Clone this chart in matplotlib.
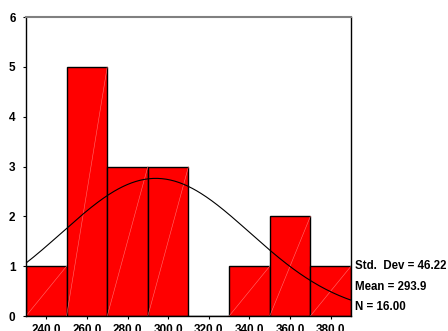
import matplotlib.pyplot as plt
import numpy as np

# histogram of the 16 values, 20-wide bins
bin_edges = [230, 250, 270, 290, 310, 330, 350, 370, 390]
counts = [1, 5, 3, 3, 0, 1, 2, 1]
std_dev = 46.22
mean = 293.9
n = 16
tick_values = [240, 260, 280, 300, 320, 340, 360, 380]

plt.rcParams['font.family'] = ['Liberation Sans', 'DejaVu Sans']
plt.rcParams['font.weight'] = 'bold'

fig = plt.figure(figsize=(4.48, 3.31), dpi=100)
ax = fig.add_axes([0.058, 0.0453, 0.7255, 0.9033])

lefts = bin_edges[:-1]
widths = np.diff(bin_edges)
ax.bar(lefts, counts, width=widths, align='edge', color='#ff0000',
       edgecolor='black', linewidth=1.0, zorder=2)

# faint corner-to-corner seams inside each bar
for l, w, c in zip(lefts, widths, counts):
    if c > 0:
        ax.plot([l, l + w], [0, c], color='#ff7070', linewidth=0.4, zorder=2.5)

# fitted normal curve scaled to counts
xs = np.linspace(bin_edges[0], bin_edges[-1], 300)
scale = n * widths[0]
ys = scale / (std_dev * np.sqrt(2 * np.pi)) * np.exp(-0.5 * ((xs - mean) / std_dev) ** 2)
ax.plot(xs, ys, color='black', linewidth=0.8, zorder=3)

ax.set_xlim(bin_edges[0], bin_edges[-1])
ax.set_ylim(0, 6)
ax.set_xticks(tick_values)
ax.set_xticklabels(['%.1f' % v for v in tick_values])
ax.set_yticks(range(7))
ax.tick_params(axis='both', labelsize=8.5, length=2.5, width=0.8)
ax.tick_params(axis='y', pad=5)
ax.tick_params(axis='x', pad=3)

ax.spines['top'].set_color('#808080')
ax.spines['top'].set_linewidth(1.5)
for s in ['left', 'bottom', 'right']:
    ax.spines[s].set_color('black')
    ax.spines[s].set_linewidth(1.0)

stats = ['Std.  Dev = %.2f' % std_dev, 'Mean = %.1f' % mean, 'N = %.2f' % n]
for i, t in enumerate(stats):
    fig.text(0.793, (331 - 266 - 20.5 * i) / 331, t, fontsize=8.3,
             fontweight='bold', va='center', ha='left')

fig.savefig('out.png', dpi=100)
